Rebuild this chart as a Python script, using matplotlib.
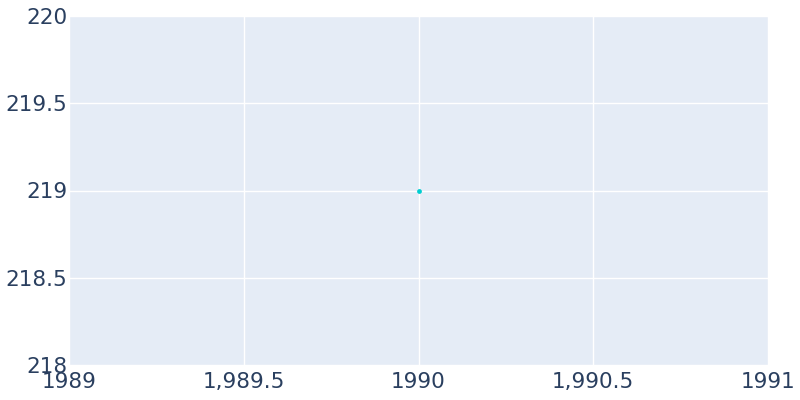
import matplotlib.pyplot as plt
from matplotlib.ticker import FuncFormatter

years = [1990]
population = [219]

x_ticks = [1989, 1989.5, 1990, 1990.5, 1991]
y_ticks = [218, 218.5, 219, 219.5, 220]

fig = plt.figure(figsize=(8, 4), dpi=100)
ax = fig.add_axes([69 / 800, 35 / 400, 699 / 800, 349 / 400])
ax.set_facecolor("#E5ECF6")
ax.scatter(years, population, s=12, color="#00CED1", zorder=3, linewidths=0)

ax.set_xlim(1989, 1991)
ax.set_ylim(218, 220)
ax.set_xticks(x_ticks)
ax.set_yticks(y_ticks)


def fmt(v, pos):
    if float(v).is_integer():
        return f"{int(v)}"
    return f"{v:,.1f}"


ax.xaxis.set_major_formatter(FuncFormatter(fmt))
ax.yaxis.set_major_formatter(FuncFormatter(fmt))
ax.grid(True, color="white", linewidth=1.0)
ax.set_axisbelow(True)
for s in ax.spines.values():
    s.set_visible(False)
ax.tick_params(length=0, labelsize=15.5, labelcolor="#2a3f5f")
ax.tick_params(axis="y", pad=1)
ax.tick_params(axis="x", pad=5)

fig.savefig("out.png", dpi=100)
